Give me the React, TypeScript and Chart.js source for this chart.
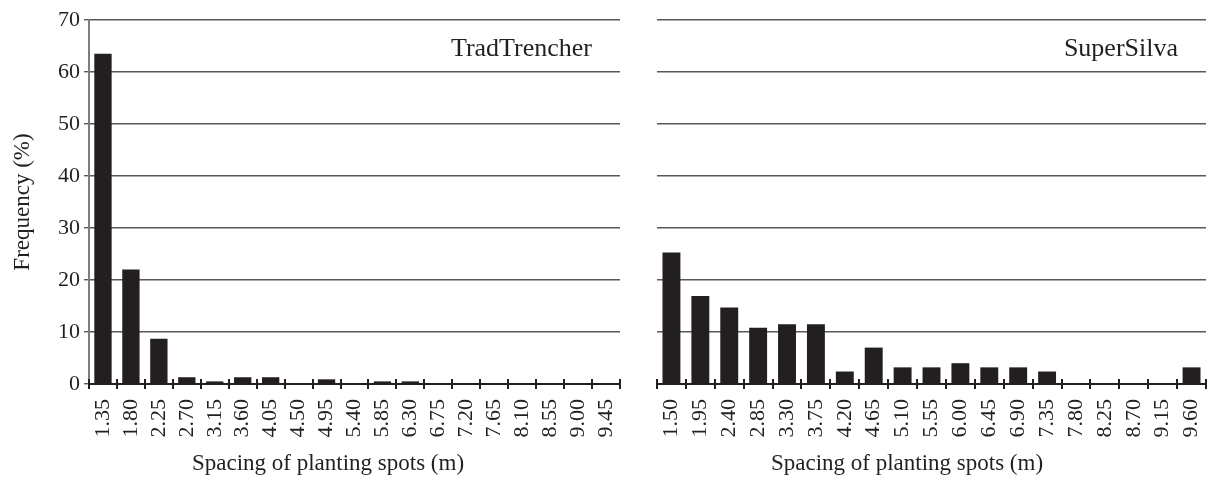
import React, { useEffect, useRef } from "react";
import { Chart, registerables } from "chart.js";

Chart.register(...registerables);

const tradCategories = ["1.35", "1.80", "2.25", "2.70", "3.15", "3.60", "4.05", "4.50", "4.95", "5.40", "5.85", "6.30", "6.75", "7.20", "7.65", "8.10", "8.55", "9.00", "9.45"];
const tradValues = [63.5, 22.0, 8.7, 1.3, 0.5, 1.3, 1.3, 0, 0.9, 0, 0.5, 0.5, 0, 0, 0, 0, 0, 0, 0];

const silvaCategories = ["1.50", "1.95", "2.40", "2.85", "3.30", "3.75", "4.20", "4.65", "5.10", "5.55", "6.00", "6.45", "6.90", "7.35", "7.80", "8.25", "8.70", "9.15", "9.60"];
const silvaValues = [25.3, 16.9, 14.7, 10.8, 11.5, 11.5, 2.4, 7.0, 3.2, 3.2, 4.0, 3.2, 3.2, 2.4, 0, 0, 0, 0, 3.2];

const yMin = 0;
const yMax = 70;
const yStep = 10;

const xTitle = "Spacing of planting spots (m)";
const yTitle = "Frequency (%)";
const tradLabel = "TradTrencher";
const silvaLabel = "SuperSilva";

const FONT = "'Liberation Serif', 'Times New Roman', serif";
const INK = "#231f20";
const GRID = "#58595b";

const crossTicks = {
  id: "crossTicks",
  afterDatasetsDraw(chart: any) {
    const x = chart.scales.x;
    const n = chart.data.labels.length;
    const ctx = chart.ctx;
    const y0 = chart.chartArea.bottom;
    const step = x.getPixelForValue(1) - x.getPixelForValue(0);
    const start = x.getPixelForValue(0) - step / 2;
    ctx.save();
    ctx.strokeStyle = INK;
    ctx.lineWidth = 2;
    for (let i = 0; i <= n; i++) {
      const px = Math.round(start + i * step);
      ctx.beginPath();
      ctx.moveTo(px, y0 - 5);
      ctx.lineTo(px, y0 + 5);
      ctx.stroke();
    }
    ctx.restore();
  },
};

const panelLabel = {
  id: "panelLabel",
  afterDraw(chart: any, _args: any, opts: any) {
    if (!opts || !opts.text) return;
    const ctx = chart.ctx;
    ctx.save();
    ctx.font = `26px ${FONT}`;
    ctx.fillStyle = INK;
    ctx.textAlign = "right";
    ctx.textBaseline = "alphabetic";
    ctx.fillText(opts.text, chart.chartArea.right - 28, 56);
    ctx.restore();
  },
};

function makeConfig(categories: string[], values: number[], label: string, isLeft: boolean): any {
  const scales: any = {
    x: {
      type: "category",
      offset: true,
      grid: { display: false, drawTicks: false, tickLength: 0 },
      border: { display: true, color: INK, width: 2 },
      ticks: {
        autoSkip: false,
        minRotation: 90,
        maxRotation: 90,
        padding: 15,
        font: { family: FONT, size: 22 },
        color: INK,
      },
      afterFit: (s: any) => {
        s.height = 66.4;
        s.paddingLeft = 0;
        s.paddingRight = 0;
      },
    },
    y: {
      type: "linear",
      min: yMin,
      max: yMax,
      ticks: {
        stepSize: yStep,
        display: isLeft,
        padding: 4,
        font: { family: FONT, size: 22 },
        color: INK,
      },
      grid: {
        color: GRID,
        lineWidth: 1.4,
        drawTicks: isLeft,
        tickLength: 5,
        tickColor: GRID,
      },
      border: { display: isLeft, color: "#7d7e80", width: 2 },
      title: {
        display: isLeft,
        text: yTitle,
        font: { family: FONT, size: 23 },
        color: INK,
        padding: { top: 9, bottom: 0 },
      },
      afterFit: (s: any) => {
        s.width = isLeft ? 89 : 49;
        s.paddingTop = 0;
        s.paddingBottom = 0;
      },
    },
  };
  if (isLeft) {
    scales.y2 = {
      type: "linear",
      position: "right",
      display: true,
      ticks: { display: false },
      grid: { display: false, drawTicks: false },
      border: { display: false },
      afterFit: (s: any) => {
        s.width = 36;
        s.paddingTop = 0;
        s.paddingBottom = 0;
      },
    };
  }
  return {
    type: "bar",
    data: {
      labels: categories,
      datasets: [
        {
          data: values,
          backgroundColor: INK,
          borderWidth: 0,
          barPercentage: 0.62,
          categoryPercentage: 1,
          yAxisID: "y",
        },
      ],
    },
    options: {
      responsive: false,
      animation: false,
      events: [],
      layout: { padding: { top: 20, left: 0, right: isLeft ? 0 : 2, bottom: 0 } },
      plugins: {
        legend: { display: false },
        tooltip: { enabled: false },
        title: {
          display: true,
          position: "bottom",
          text: xTitle,
          font: { family: FONT, size: 23, weight: "normal" },
          color: INK,
          padding: { top: 0, bottom: 3 },
        },
        panelLabel: { text: label },
      },
      scales,
    },
    plugins: [crossTicks, panelLabel],
  };
}

export default function App() {
  const leftRef = useRef<HTMLCanvasElement>(null);
  const rightRef = useRef<HTMLCanvasElement>(null);

  useEffect(() => {
    const c1 = new Chart(leftRef.current as HTMLCanvasElement, makeConfig(tradCategories, tradValues, tradLabel, true));
    const c2 = new Chart(rightRef.current as HTMLCanvasElement, makeConfig(silvaCategories, silvaValues, silvaLabel, false));
    return () => {
      c1.destroy();
      c2.destroy();
    };
  }, []);

  return (
    <div style={{ position: "fixed", left: 0, top: 0, width: 1208, height: 481, background: "#ffffff" }}>
      <canvas
        ref={leftRef}
        width={656}
        height={481}
        style={{ position: "absolute", left: 0, top: 0, width: 656, height: 481 }}
      />
      <canvas
        ref={rightRef}
        width={600}
        height={481}
        style={{ position: "absolute", left: 608, top: 0, width: 600, height: 481 }}
      />
    </div>
  );
}
